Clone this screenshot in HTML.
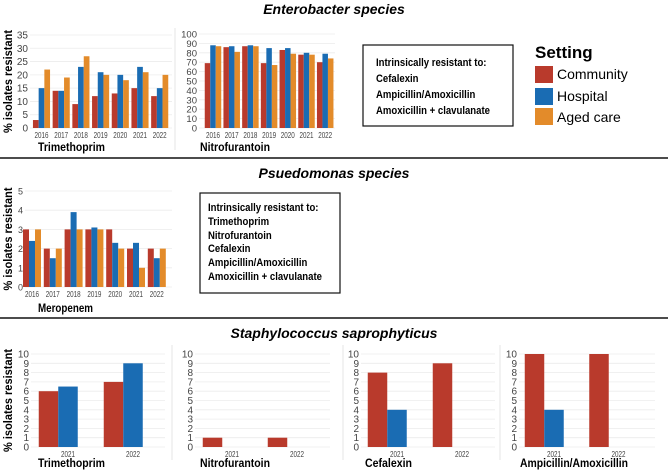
<!DOCTYPE html>
<html><head><meta charset="utf-8"><style>
body{margin:0;background:#fff;}
svg{display:block;font-family:"Liberation Sans",sans-serif;}
</style></head><body>
<svg id="fig" width="668" height="472" viewBox="0 0 668 472">
<text x="334" y="14" text-anchor="middle" font-size="14" font-weight="bold" font-style="italic">Enterobacter species</text>
<line x1="0" y1="158" x2="668" y2="158" stroke="#111" stroke-width="1.5"/>
<text x="334" y="178" text-anchor="middle" font-size="14" font-weight="bold" font-style="italic">Psuedomonas species</text>
<line x1="0" y1="318" x2="668" y2="318" stroke="#111" stroke-width="1.5"/>
<text x="334" y="338" text-anchor="middle" font-size="14" font-weight="bold" font-style="italic">Staphylococcus saprophyticus</text>

<g font-size="11" font-weight="bold">
<rect x="363" y="45" width="150" height="81" fill="none" stroke="#111" stroke-width="1.2"/>
<g transform="translate(376,0) scale(0.87,1)">
<text x="0" y="66">Intrinsically resistant to:</text>
<text x="0" y="82">Cefalexin</text>
<text x="0" y="98">Ampicillin/Amoxicillin</text>
<text x="0" y="114">Amoxicillin + clavulanate</text>
</g>
</g>
<g>
<text x="535" y="58" font-size="17" font-weight="bold">Setting</text>
<rect x="535" y="66" width="18" height="17" fill="#b93a2c"/>
<text x="557" y="79" font-size="14">Community</text>
<rect x="535" y="88" width="18" height="17" fill="#1a6cb3"/>
<text x="557" y="101" font-size="14">Hospital</text>
<rect x="535" y="108" width="18" height="17" fill="#e38b2a"/>
<text x="557" y="122" font-size="14">Aged care</text>
</g>
<g font-size="11" font-weight="bold">
<rect x="200" y="193" width="140" height="100" fill="none" stroke="#111" stroke-width="1.2"/>
<g transform="translate(208,0) scale(0.87,1)">
<text x="0" y="211">Intrinsically resistant to:</text>
<text x="0" y="225">Trimethoprim</text>
<text x="0" y="239">Nitrofurantoin</text>
<text x="0" y="252">Cefalexin</text>
<text x="0" y="266">Ampicillin/Amoxicillin</text>
<text x="0" y="280">Amoxicillin + clavulanate</text>
</g>
</g>
<g stroke="#e6e6e6">
<line x1="175" y1="28" x2="175" y2="150"/><line x1="172" y1="345" x2="172" y2="460"/><line x1="343" y1="345" x2="343" y2="460"/><line x1="500" y1="345" x2="500" y2="460"/>
</g>
</svg>
<script>
const entYears = ["2016","2017","2018","2019","2020","2021","2022"];
const entTriCommunity = [3,14,9,12,13,15,12];
const entTriHospital = [15,14,23,21,20,23,15];
const entTriAged = [22,19,27,20,18,21,20];
const entNitCommunity = [69,86,87,69,83,78,70];
const entNitHospital = [88,87,88,85,85,80,79];
const entNitAged = [87,81,87,67,79,78,74];
const psYears = ["2016","2017","2018","2019","2020","2021","2022"];
const psMeroCommunity = [3,2,3,3,3,2,2];
const psMeroHospital = [2.4,1.5,3.9,3.1,2.3,2.3,1.5];
const psMeroAged = [3,2,3,3,2,1,2];
const stYears = ["2021","2022"];
const stTriCommunity = [6,7];
const stTriHospital = [6.5,9];
const stNitCommunity = [1,1];
const stNitHospital = [0,0];
const stCefCommunity = [8,9];
const stCefHospital = [4,0];
const stAmpCommunity = [10,10];
const stAmpHospital = [4,0];

const NS="http://www.w3.org/2000/svg";
const svg=document.getElementById('fig');
const COLORS=["#b93a2c","#1a6cb3","#e38b2a"];
const SNAMES=["community","hospital","aged-care"];
function mk(tag,attrs,parent){const e=document.createElementNS(NS,tag);for(const k in attrs)e.setAttribute(k,attrs[k]);(parent||svg).appendChild(e);return e;}

function panel(o){
  const g=mk('g',{});
  
  
  const yScale=v=>o.y0-(v/o.max)*(o.y0-o.yTop);
  const xScale=i=>o.x0+i*o.spacing;
  for(let t=0;t<=o.max+1e-9;t+=o.step){
    const y=yScale(t);
    const gl=mk('line',{x1:o.gl,x2:o.gr,y1:y,y2:y,stroke:"#ececec","stroke-width":0.8},g);
    
    
    const tx=mk('text',{x:o.gl-2,y:y+3.5,"text-anchor":"end","font-size":o.tfs||10,fill:"#444"},g);
    
    
    tx.textContent=String(Math.round(t));
  }
  const n=o.series.length, slots=o.slots||n;
  o.cats.forEach((c,i)=>{
    const cx=xScale(i);
    o.series.forEach((s,j)=>{
      const v=s[i]; if(!v) return;
      const x=cx-slots*o.bw/2+j*o.bw;
      const r=mk('rect',{x:x,y:yScale(v),width:o.bw,height:o.y0-yScale(v),fill:COLORS[j]},g);
      
      
    });
    const attrs={x:cx+(o.lx||0),y:o.y0+10,"text-anchor":"middle","font-size":o.xfs||9,fill:"#444"};
    if(o.tlen){attrs.textLength=o.tlen;attrs.lengthAdjust="spacingAndGlyphs";}
    const tl=mk('text',attrs,g);
    
    
    tl.textContent=c;
  });
  const lab=mk('text',{x:o.lx0,y:o.ly,"font-size":12,"font-weight":"bold",textLength:o.llen,lengthAdjust:"spacingAndGlyphs"},g);
  
  
  lab.textContent=o.label;
  if(o.ytitle){
    const cy=(o.y0+o.yTop)/2;
    const yt=mk('text',{x:0,y:0,transform:"translate(12,"+cy+") rotate(-90)","text-anchor":"middle","font-size":12,"font-weight":"bold",textLength:103,lengthAdjust:"spacingAndGlyphs"},g);
    
    
    yt.textContent="% isolates resistant";
  }
}
panel({name:"enterobacter-trimethoprim",cats:entYears,series:[entTriCommunity,entTriHospital,entTriAged],max:35,step:5,y0:128,yTop:35,x0:41.5,spacing:19.7,bw:5.7,gl:30,gr:172,label:"Trimethoprim",lx0:38,ly:151,llen:67,ytitle:true,xfs:8.5,tlen:14});
panel({name:"enterobacter-nitrofurantoin",cats:entYears,series:[entNitCommunity,entNitHospital,entNitAged],max:100,step:10,y0:128,yTop:34,x0:213,spacing:18.7,bw:5.5,gl:199,gr:335,label:"Nitrofurantoin",lx0:200,ly:151,llen:70,xfs:8.5,tlen:14,tfs:9.5});
panel({name:"pseudomonas-meropenem",cats:psYears,series:[psMeroCommunity,psMeroHospital,psMeroAged],max:5,step:1,y0:287,yTop:191,x0:32,spacing:20.8,bw:6,gl:25,gr:172,label:"Meropenem",lx0:38,ly:312,llen:55,ytitle:true,xfs:8.5,tfs:9,tlen:14});
panel({name:"staph-trimethoprim",cats:stYears,series:[stTriCommunity,stTriHospital],slots:3,max:10,step:1,y0:447,yTop:354,x0:68,spacing:65,bw:19.5,gl:31,gr:165,label:"Trimethoprim",lx0:38,ly:467,llen:67,ytitle:true,xfs:8.5,tlen:14});
panel({name:"staph-nitrofurantoin",cats:stYears,series:[stNitCommunity,stNitHospital],slots:3,max:10,step:1,y0:447,yTop:354,x0:232,spacing:65,bw:19.5,gl:195,gr:330,label:"Nitrofurantoin",lx0:200,ly:467,llen:70,xfs:8.5,tlen:14});
panel({name:"staph-cefalexin",cats:stYears,series:[stCefCommunity,stCefHospital],slots:3,max:10,step:1,y0:447,yTop:354,x0:397,spacing:65,bw:19.5,gl:361,gr:495,label:"Cefalexin",lx0:365,ly:467,llen:47,xfs:8.5,tlen:14});
panel({name:"staph-ampicillin-amoxicillin",cats:stYears,series:[stAmpCommunity,stAmpHospital],slots:3,max:10,step:1,y0:447,yTop:354,x0:554,spacing:64.5,bw:19.5,gl:519,gr:655,label:"Ampicillin/Amoxicillin",lx0:520,ly:467,llen:108,xfs:8.5,tlen:14});
</script>
</body></html>
